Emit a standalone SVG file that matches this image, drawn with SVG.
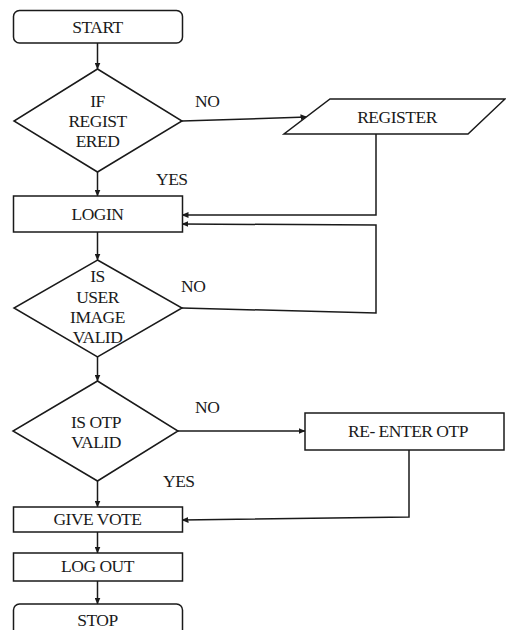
<svg xmlns="http://www.w3.org/2000/svg" width="506" height="630" viewBox="0 0 506 630">
<defs>
<marker id="ah" markerWidth="7" markerHeight="6" refX="6.5" refY="3" orient="auto" markerUnits="userSpaceOnUse">
<path d="M0,0 L7,3 L0,6 Z" fill="#1a1a1a"/>
</marker>
<style>
.s{fill:#fff;stroke:#1a1a1a;stroke-width:1.5}
.c{fill:none;stroke:#1a1a1a;stroke-width:1.5;marker-end:url(#ah)}
text{font-family:"Liberation Serif","Times New Roman",serif;font-size:17.5px;fill:#1a1a1a;letter-spacing:-0.5px}
.m{text-anchor:middle}
</style>
</defs>
<rect width="506" height="630" fill="#fff"/>
<g id="connectors">
<line class="c" x1="97.5" y1="43" x2="97.5" y2="69"/>
<line class="c" x1="97.5" y1="172" x2="97.5" y2="196"/>
<line class="c" x1="182" y1="121" x2="307" y2="117"/>
<polyline class="c" points="376,134 376,215 182,215"/>
<line class="c" x1="97.5" y1="232" x2="97.5" y2="260"/>
<polyline class="c" points="182,308 376,313 376,225 182,224"/>
<line class="c" x1="97.5" y1="357" x2="97.5" y2="381"/>
<line class="c" x1="178" y1="431" x2="305" y2="431"/>
<polyline class="c" points="409,450 409,517 182,520"/>
<line class="c" x1="97.5" y1="481" x2="97.5" y2="507"/>
<line class="c" x1="97.5" y1="532" x2="97.5" y2="553"/>
<line class="c" x1="97.5" y1="581" x2="97.5" y2="604"/>
</g>
<g id="start">
<rect class="s" x="13.5" y="10.5" width="169" height="32.5" rx="6"/>
<text class="m" x="97.5" y="33">START</text>
</g>
<g id="ifRegistered">
<polygon class="s" points="97.5,69 182,121 97.5,172 14,121"/>
<text class="m" x="97.5" y="107">IF</text>
<text class="m" x="97.5" y="127">REGIST</text>
<text class="m" x="97.5" y="147">ERED</text>
</g>
<g id="register">
<polygon class="s" points="330,99 505,99 468,134 284,134"/>
<text class="m" x="397" y="123">REGISTER</text>
</g>
<g id="login">
<rect class="s" x="13.5" y="196" width="169" height="36"/>
<text class="m" x="97.5" y="220">LOGIN</text>
</g>
<g id="imageValid">
<polygon class="s" points="97.5,260 182,308 97.5,357 14,308"/>
<text class="m" x="97.5" y="282">IS</text>
<text class="m" x="97.5" y="303">USER</text>
<text class="m" x="97.5" y="323">IMAGE</text>
<text class="m" x="97.5" y="343">VALID</text>
</g>
<g id="otpValid">
<polygon class="s" points="97.5,381 178,431 97.5,481 13,431"/>
<text class="m" x="96" y="428">IS OTP</text>
<text class="m" x="96" y="448">VALID</text>
</g>
<g id="reenterOtp">
<rect class="s" x="305" y="413" width="199" height="37"/>
<text class="m" x="408" y="437">RE- ENTER OTP</text>
</g>
<g id="giveVote">
<rect class="s" x="13.5" y="507" width="169" height="25"/>
<text class="m" x="97.5" y="525">GIVE VOTE</text>
</g>
<g id="logout">
<rect class="s" x="13.5" y="553" width="169" height="28"/>
<text class="m" x="97.5" y="572">LOG OUT</text>
</g>
<g id="stop">
<rect class="s" x="13.5" y="604" width="169" height="40" rx="6"/>
<text class="m" x="97.5" y="626">STOP</text>
</g>
<g id="labels">
<text x="195" y="107">NO</text>
<text x="156" y="185">YES</text>
<text x="181" y="292">NO</text>
<text x="195" y="413">NO</text>
<text x="163" y="487">YES</text>
</g>
</svg>
